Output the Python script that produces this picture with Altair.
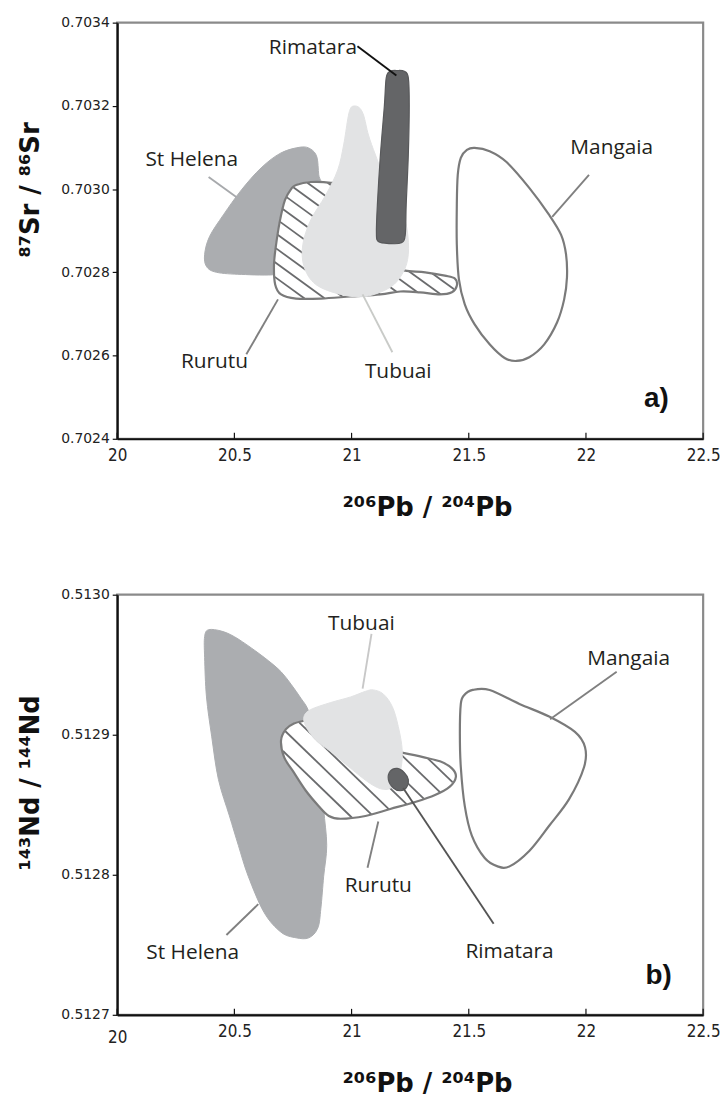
import altair as alt
import numpy as np
import pandas as pd

# ---------------------------------------------------------------- axes
PB_DOMAIN = [20.0, 22.5]
SR_DOMAIN = [0.7024, 0.7034]
ND_DOMAIN = [0.5127, 0.5130]
PB_TICKS = [20, 20.5, 21, 21.5, 22, 22.5]
SR_TICKS = [0.7024, 0.7026, 0.7028, 0.7030, 0.7032, 0.7034]
ND_TICKS = [0.5127, 0.5128, 0.5129, 0.5130]

W = 590
H_A = 419
H_B = 423

# ---------------------------------------------------------------- panel a) fields (206Pb/204Pb vs 87Sr/86Sr)
sth_a_pb = [20.373, 20.394, 20.453, 20.530, 20.614, 20.699, 20.784, 20.826, 20.852, 20.860,
            20.869, 20.805, 20.742, 20.678, 20.530, 20.424, 20.381]
sth_a_sr = [0.702843, 0.702886, 0.702938, 0.702998, 0.703051, 0.703087, 0.703101, 0.703096,
            0.703077, 0.703034, 0.702998, 0.702890, 0.702814, 0.702795, 0.702795, 0.702800, 0.702814]

rur_a_pb = [20.763, 20.826, 20.911, 20.975, 21.081, 21.186, 21.229, 21.314, 21.398, 21.441,
            21.449, 21.428, 21.377, 21.292, 21.208, 21.123, 20.996, 20.869, 20.763, 20.699,
            20.674, 20.669, 20.678, 20.695, 20.716, 20.742]
rur_a_sr = [0.703010, 0.703017, 0.703015, 0.703005, 0.702890, 0.702814, 0.702804, 0.702800,
            0.702792, 0.702785, 0.702768, 0.702752, 0.702747, 0.702752, 0.702754, 0.702747,
            0.702742, 0.702737, 0.702737, 0.702747, 0.702771, 0.702819, 0.702867, 0.702926,
            0.702974, 0.703000]

tub_a_pb = [21.004, 21.030, 21.051, 21.072, 21.102, 21.144, 21.208, 21.237, 21.242, 21.220,
            21.165, 21.059, 20.953, 20.847, 20.797, 20.792, 20.826, 20.890, 20.941, 20.966,
            20.983, 20.992]
tub_a_sr = [0.703199, 0.703197, 0.703178, 0.703130, 0.703082, 0.703022, 0.702962, 0.702902,
            0.702843, 0.702800, 0.702764, 0.702742, 0.702747, 0.702771, 0.702814, 0.702867,
            0.702926, 0.702986, 0.703046, 0.703106, 0.703166, 0.703189]

rim_a_pb = [21.195, 21.225, 21.242, 21.246, 21.242, 21.233, 21.229, 21.212, 21.165, 21.114,
            21.106, 21.110, 21.123, 21.140, 21.148, 21.165]
rim_a_sr = [0.703285, 0.703283, 0.703268, 0.703201, 0.703082, 0.702962, 0.702890, 0.702871,
            0.702869, 0.702874, 0.702895, 0.702962, 0.703082, 0.703201, 0.703268, 0.703283]

man_a_pb = [21.525, 21.589, 21.661, 21.758, 21.843, 21.894, 21.915, 21.919, 21.907, 21.877,
            21.822, 21.758, 21.703, 21.653, 21.589, 21.525, 21.483, 21.458, 21.449, 21.449,
            21.453, 21.466, 21.492]
man_a_sr = [0.703099, 0.703091, 0.703065, 0.703003, 0.702938, 0.702890, 0.702843, 0.702788,
            0.702735, 0.702680, 0.702627, 0.702596, 0.702587, 0.702594, 0.702627, 0.702675,
            0.702723, 0.702783, 0.702867, 0.702962, 0.703034, 0.703075, 0.703094]

# island names, label anchors and leader lines for panel a)
lab_a_text = ["Rimatara", "St Helena", "Mangaia", "Rurutu", "Tubuai"]
lab_a_pb = [20.835, 20.318, 22.110, 20.415, 21.199]
lab_a_sr = [0.703340, 0.703070, 0.703099, 0.702584, 0.702560]

lead_a_pb = [21.025, 20.390, 21.856, 20.686, 21.047]
lead_a_sr = [0.703343, 0.703029, 0.702933, 0.702735, 0.702747]
lead_a_pb2 = [21.191, 20.508, 22.013, 20.551, 21.174]
lead_a_sr2 = [0.703273, 0.702981, 0.703034, 0.702603, 0.702608]
lead_a_col = ["#111111", "#a7a9ac", "#808080", "#808080", "#c9cbc8"]

# ---------------------------------------------------------------- panel b) fields (206Pb/204Pb vs 143Nd/144Nd)
sth_b_pb = [20.390, 20.445, 20.500, 20.572, 20.644, 20.699, 20.742, 20.784, 20.814, 20.847,
            20.869, 20.881, 20.894, 20.881, 20.869, 20.856, 20.818, 20.763, 20.699, 20.627,
            20.559, 20.517, 20.479, 20.432, 20.403, 20.381, 20.373, 20.373]
sth_b_nd = [0.512975, 0.512974, 0.512970, 0.512962, 0.512953, 0.512945, 0.512936, 0.512926,
            0.512918, 0.512902, 0.512877, 0.512847, 0.512821, 0.512799, 0.512776, 0.512762,
            0.512755, 0.512755, 0.512759, 0.512773, 0.512799, 0.512821, 0.512842, 0.512868,
            0.512899, 0.512927, 0.512955, 0.512970]

rur_b_pb = [20.699, 20.720, 20.754, 20.797, 20.847, 21.038, 21.186, 21.220, 21.305, 21.377,
            21.428, 21.445, 21.419, 21.356, 21.271, 21.165, 21.059, 20.953, 20.903, 20.860,
            20.805, 20.750, 20.712]
rur_b_nd = [0.512896, 0.512904, 0.512908, 0.512910, 0.512911, 0.512895, 0.512888, 0.512887,
            0.512884, 0.512881, 0.512876, 0.512870, 0.512863, 0.512857, 0.512852, 0.512847,
            0.512842, 0.512840, 0.512842, 0.512849, 0.512860, 0.512874, 0.512884]

tub_b_pb = [21.093, 21.136, 21.174, 21.199, 21.216, 21.208, 21.174, 21.136, 21.081, 20.996,
            20.911, 20.847, 20.805, 20.797, 20.826, 20.911, 20.996, 21.059]
tub_b_nd = [0.512932, 0.512929, 0.512920, 0.512906, 0.512889, 0.512874, 0.512863, 0.512861,
            0.512865, 0.512876, 0.512888, 0.512896, 0.512906, 0.512913, 0.512918, 0.512923,
            0.512927, 0.512931]

rim_b_pb = [21.165, 21.195, 21.225, 21.242, 21.233, 21.208, 21.178, 21.157]
rim_b_nd = [0.512874, 0.512876, 0.512873, 0.512868, 0.512862, 0.512860, 0.512862, 0.512868]

man_b_pb = [21.517, 21.589, 21.716, 21.843, 21.953, 21.996, 21.992, 21.928, 21.843, 21.758,
            21.674, 21.623, 21.568, 21.513, 21.483, 21.466, 21.462, 21.466, 21.479]
man_b_nd = [0.512932, 0.512932, 0.512922, 0.512913, 0.512902, 0.512891, 0.512877, 0.512854,
            0.512835, 0.512817, 0.512806, 0.512806, 0.512812, 0.512828, 0.512849, 0.512877,
            0.512901, 0.512922, 0.512928]

lab_b_text = ["Tubuai", "Mangaia", "Rurutu", "St Helena", "Rimatara"]
lab_b_pb = [21.042, 22.182, 21.114, 20.322, 21.674]
lab_b_nd = [0.512979, 0.512954, 0.512792, 0.512744, 0.512745]

lead_b_pb = [21.085, 22.131, 21.114, 20.602, 21.220]
lead_b_nd = [0.512972, 0.512945, 0.512838, 0.512779, 0.512862]
lead_b_pb2 = [21.047, 21.847, 21.068, 20.466, 21.606]
lead_b_nd2 = [0.512933, 0.512911, 0.512805, 0.512757, 0.512765]
lead_b_col = ["#c8c8c8", "#808080", "#808080", "#808080", "#555555"]

panel_tag = ["a)", "b)"]
tag_pb = [22.30, 22.31]
tag_y = [0.702496, 0.512728]

# ---------------------------------------------------------------- styling
C_STH = "#abadb0"
C_TUB = "#e2e3e4"
C_RIM = "#646567"
C_LINE = "#7a7a7a"
C_HATCH = "#6a6b6d"
LABEL_FONT = "Open Sans"
TICK_FONT = "DejaVu Sans"
XTICK_FONT = "Liberation Sans Narrow, DejaVu Sans Condensed, Liberation Sans"
TITLE_FONT = "DejaVu Sans"


def poly(xs, ys):
    return pd.DataFrame({"pb": xs, "v": ys, "i": range(len(xs))})


def hatch(xs, ys, ydom, h, angle, gap):
    """Parallel diagonal strokes clipped to a closed outline (computed in screen space)."""
    u = (np.asarray(xs) - PB_DOMAIN[0]) / (PB_DOMAIN[1] - PB_DOMAIN[0]) * W
    v = (ydom[1] - np.asarray(ys)) / (ydom[1] - ydom[0]) * h
    P = np.stack([u, v], axis=1)
    th = np.radians(angle)
    d = np.array([np.cos(th), np.sin(th)])
    n = np.array([-np.sin(th), np.cos(th)])
    proj = P @ n
    rows = []
    c = proj.min() + gap * 0.6
    while c < proj.max():
        hits = []
        for k in range(len(P)):
            a, b = P[k], P[(k + 1) % len(P)]
            pa, pb_ = a @ n - c, b @ n - c
            if (pa < 0) != (pb_ < 0):
                q = a + (b - a) * (pa / (pa - pb_))
                hits.append(q @ d)
        hits.sort()
        for s0, s1 in zip(hits[0::2], hits[1::2]):
            q0, q1 = n * c + d * s0, n * c + d * s1
            rows.append({
                "pb": PB_DOMAIN[0] + q0[0] / W * (PB_DOMAIN[1] - PB_DOMAIN[0]),
                "v": ydom[1] - q0[1] / h * (ydom[1] - ydom[0]),
                "pb2": PB_DOMAIN[0] + q1[0] / W * (PB_DOMAIN[1] - PB_DOMAIN[0]),
                "v2": ydom[1] - q1[1] / h * (ydom[1] - ydom[0]),
            })
        c += gap
    return pd.DataFrame(rows)


def panel(ydom, yticks, h, ytitle, title_y, fields, labels, leaders, tag, hatch_angle,
          hatch_gap, xlabel_pad):
    x = alt.X("pb:Q", scale=alt.Scale(domain=PB_DOMAIN, nice=False, zero=False),
              axis=alt.Axis(values=PB_TICKS, format="~g", ticks=False, grid=False,
                            domainColor="#111111", domainWidth=2.2, labelFont=XTICK_FONT,
                            labelFontSize=17, labelColor="#222222", labelPadding=xlabel_pad,
                            labelFlush=False,
                            title="²⁰⁶Pb / ²⁰⁴Pb", titleFont=TITLE_FONT, titleFontSize=26,
                            titleFontWeight="bold", titleColor="#111111",
                            titleX=312, titleY=69, titleBaseline="middle"))
    y = alt.Y("v:Q", scale=alt.Scale(domain=ydom, nice=False, zero=False),
              axis=alt.Axis(values=yticks, format=".4f", grid=False, tickSize=5,
                            tickColor="#111111", tickWidth=1.2, domainColor="#111111",
                            domainWidth=2.2, labelFont=TICK_FONT, labelFontSize=14,
                            labelColor="#222222", labelPadding=3,
                            title=ytitle, titleFont=TITLE_FONT, titleFontSize=26,
                            titleFontWeight="bold", titleColor="#111111",
                            titleX=-87, titleY=title_y, titleBaseline="middle",
                            titleAlign="center", titleAngle=270))
    order = alt.Order("i:Q")

    sth, rur, tub, rim, man = fields
    layers = [
        alt.Chart(poly(*sth)).mark_line(interpolate="cardinal-closed", fill=C_STH,
                                        stroke=C_STH, strokeWidth=1)
        .encode(x=x, y=y, order=order),
        alt.Chart(poly(*rur)).mark_line(interpolate="cardinal-closed", fill="white",
                                        stroke="white", strokeWidth=1)
        .encode(x=x, y=y, order=order),
        alt.Chart(hatch(rur[0], rur[1], ydom, h, hatch_angle, hatch_gap))
        .mark_rule(color=C_HATCH, strokeWidth=1.8)
        .encode(x=x, y=y, x2="pb2:Q", y2="v2:Q"),
        alt.Chart(poly(*rur)).mark_line(interpolate="cardinal-closed", stroke=C_LINE,
                                        strokeWidth=2.2)
        .encode(x=x, y=y, order=order),
        alt.Chart(poly(*tub)).mark_line(interpolate="cardinal-closed", fill=C_TUB,
                                        stroke=C_TUB, strokeWidth=1)
        .encode(x=x, y=y, order=order),
        alt.Chart(poly(*rim)).mark_line(interpolate="cardinal-closed", fill=C_RIM,
                                        stroke="#58595b", strokeWidth=1.2)
        .encode(x=x, y=y, order=order),
        alt.Chart(poly(*man)).mark_line(interpolate="cardinal-closed", stroke=C_LINE,
                                        strokeWidth=2.2)
        .encode(x=x, y=y, order=order),
    ]

    lx, ly, lx2, ly2, lcol = leaders
    lead_df = pd.DataFrame({"pb": lx, "v": ly, "pb2": lx2, "v2": ly2, "c": lcol})
    layers.append(
        alt.Chart(lead_df).mark_rule(strokeWidth=1.9)
        .encode(x=x, y=y, x2="pb2:Q", y2="v2:Q", color=alt.Color("c:N", scale=None))
    )

    ltext, lpb, lv = labels
    lab_df = pd.DataFrame({"pb": lpb, "v": lv, "t": ltext})
    layers.append(
        alt.Chart(lab_df).mark_text(font=LABEL_FONT, fontSize=21, color="#231f20",
                                    align="center", baseline="middle")
        .encode(x=x, y=y, text="t:N")
    )

    tag_df = pd.DataFrame({"pb": [tag[1]], "v": [tag[2]], "t": [tag[0]]})
    layers.append(
        alt.Chart(tag_df).mark_text(font="Liberation Sans", fontSize=28, fontWeight="bold",
                                    color="#111111", align="center", baseline="middle")
        .encode(x=x, y=y, text="t:N")
    )

    # inward tick marks along the bottom axis
    tick_df = pd.DataFrame({"pb": PB_TICKS})
    layers.append(
        alt.Chart(tick_df).mark_rule(color="#111111", strokeWidth=1.2)
        .encode(x=x, y=alt.value(h), y2=alt.value(h - 6))
    )

    return alt.layer(*layers).properties(width=W, height=h)


top = panel(
    SR_DOMAIN, SR_TICKS, H_A, "⁸⁷Sr / ⁸⁶Sr", 168,
    [(sth_a_pb, sth_a_sr), (rur_a_pb, rur_a_sr), (tub_a_pb, tub_a_sr),
     (rim_a_pb, rim_a_sr), (man_a_pb, man_a_sr)],
    (lab_a_text, lab_a_pb, lab_a_sr),
    (lead_a_pb, lead_a_sr, lead_a_pb2, lead_a_sr2, lead_a_col),
    (panel_tag[0], tag_pb[0], tag_y[0]),
    36, 12, 9,
)

bottom = panel(
    ND_DOMAIN, ND_TICKS, H_B, "¹⁴³Nd / ¹⁴⁴Nd", 189,
    [(sth_b_pb, sth_b_nd), (rur_b_pb, rur_b_nd), (tub_b_pb, tub_b_nd),
     (rim_b_pb, rim_b_nd), (man_b_pb, man_b_nd)],
    (lab_b_text, lab_b_pb, lab_b_nd),
    (lead_b_pb, lead_b_nd, lead_b_pb2, lead_b_nd2, lead_b_col),
    (panel_tag[1], tag_pb[1], tag_y[1]),
    44, 16,
    {"condition": {"test": "datum.value == 20", "value": 15}, "value": 9},
)

chart = (
    alt.vconcat(top, bottom, spacing=64)
    .configure(padding={"left": 16, "top": 10, "right": 4, "bottom": 2}, background="white")
    .configure_view(stroke="#8a8a8a", strokeWidth=2.2)
)

chart.save("out.html", embed_options={"renderer": "svg", "actions": False})
